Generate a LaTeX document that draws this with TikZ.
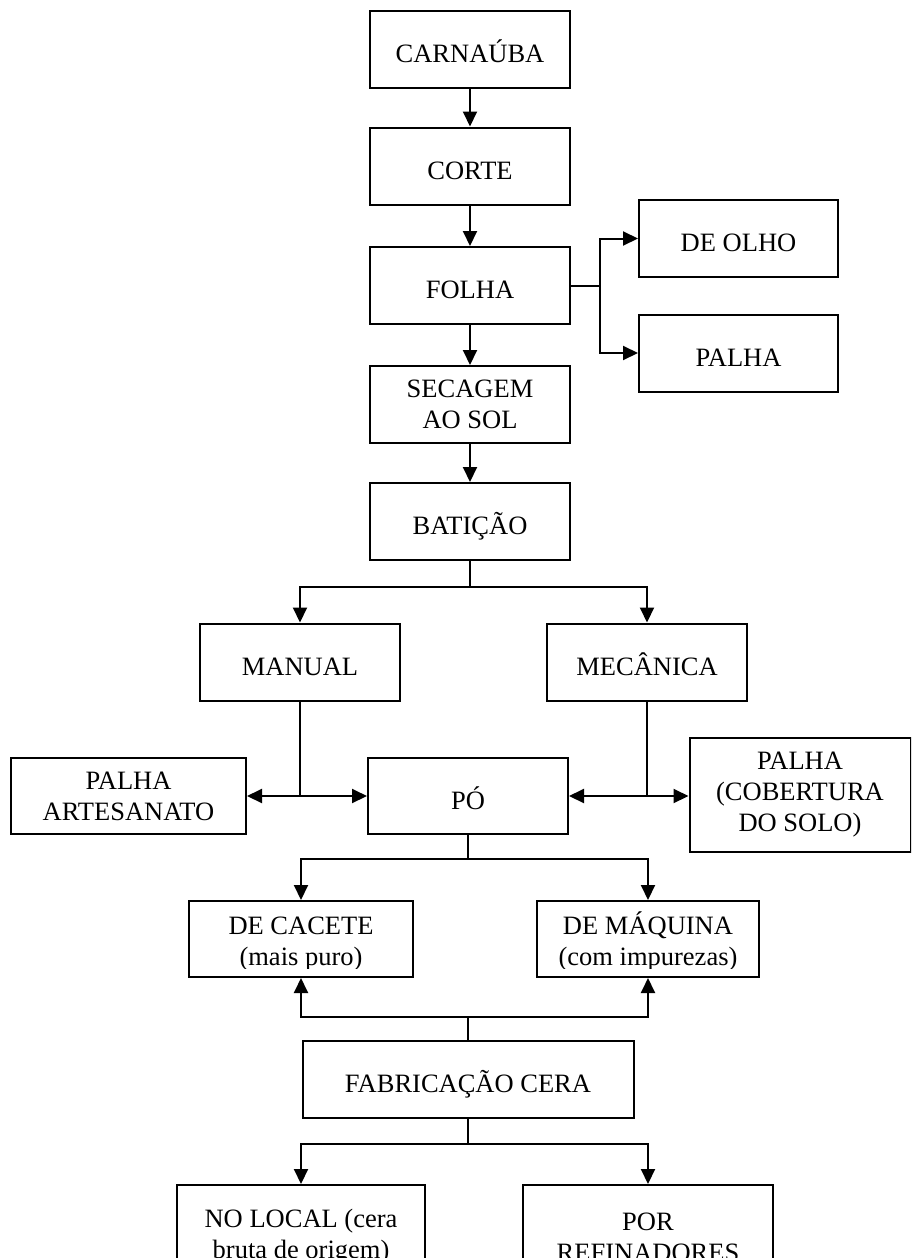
\documentclass[tikz,border=0pt]{standalone}
\usepackage{fontspec}
\setmainfont{Liberation Serif}
\usetikzlibrary{arrows.meta,positioning,calc}

\tikzset{
    caixa/.style={draw, rectangle, line width=2pt, minimum width=200pt, minimum height=77pt,
        align=center, font=\fontsize{26.5pt}{31pt}\selectfont},
    simples/.style={caixa, text height=26pt, text depth=0pt},
    texto/.style={align=center, inner sep=0pt, font=\fontsize{26.5pt}{31pt}\selectfont},
    linha/.style={line width=2pt},
    seta/.style={line width=2pt, -{Triangle[length=15pt,width=14pt]}}
}

\begin{document}
\begin{tikzpicture}[x=1pt, y=-1pt]
    \useasboundingbox (0,0) rectangle (911,1258);
    \clip (0,0) rectangle (911,1258);

    % coluna principal
    \node[simples] (carnauba) at (470,49.5) {CARNAÚBA};
    \node[simples] (corte) at (470,166) {CORTE};
    \node[simples] (folha) at (470,285.5) {FOLHA};
    \node[caixa] (secagem) at (470,404.5) {SECAGEM\\AO SOL};
    \node[simples] (baticao) at (470,521.5) {BATIÇÃO};

    \node[simples, minimum width=199pt] (deolho) at (738.5,238.5) {DE OLHO};
    \node[simples, minimum width=199pt] (palha) at (738.5,353) {PALHA};

    \node[simples] (manual) at (300,662) {MANUAL};
    \node[simples] (mecanica) at (647,662) {MECÂNICA};

    \node[caixa, minimum width=235pt, minimum height=76pt] (artesanato) at (128.5,796) {PALHA\\ARTESANATO};
    \node[simples, minimum height=76pt] (po) at (468,796) {PÓ};
    \node[caixa, minimum width=221pt, minimum height=114pt] (cobertura) at (800,795) {PALHA\\(COBERTURA\\DO SOLO)};

    \node[caixa, minimum width=224pt, minimum height=76pt] (cacete) at (301,939) {};
    \node[caixa, minimum width=222pt, minimum height=76pt] (maquina) at (648,939) {};
    \begin{scope}
        \clip (cacete.north west) rectangle ([yshift=10pt]maquina.south east);
        \node[texto] (cacetetxt) at ([yshift=-5pt]cacete.center) {DE CACETE\\(mais puro)};
        \node[texto] (maquinatxt) at ([yshift=-2.4pt]maquina.center) {DE MÁQUINA\\(com impurezas)};
    \end{scope}

    \node[simples, minimum width=331pt] (fabricacao) at (468,1079.5) {FABRICAÇÃO CERA};
    \node[caixa, minimum width=248pt, minimum height=104pt] (nolocal) at (301,1237) {NO LOCAL (cera\\bruta de origem)};
    \node[caixa, minimum width=250pt, minimum height=104pt] (refinadores) at (648,1237) {POR\\REFINADORES};

    % ligacoes
    \draw[seta] (carnauba) -- (corte);
    \draw[seta] (corte) -- (folha);
    \draw[seta] (folha) -- (secagem);
    \draw[seta] (secagem) -- (baticao);

    \draw[linha] (folha.east) -- ++(29,0) coordinate (f1);
    \draw[seta] (f1) |- (deolho.west);
    \draw[seta] (f1) |- (palha.west);

    \draw[linha] (baticao.south) -- ++(0,26) coordinate (b1);
    \draw[seta] (b1) -| (manual.north);
    \draw[seta] (b1) -| (mecanica.north);

    \coordinate (m1) at (manual.south |- po.west);
    \coordinate (m2) at (mecanica.south |- po.east);
    \draw[linha] (manual.south) -- (m1);
    \draw[seta] (m1) -- (artesanato.east);
    \draw[seta] (m1) -- (po.west);
    \draw[linha] (mecanica.south) -- (m2);
    \draw[seta] (m2) -- (po.east);
    \draw[seta] (m2) -- (m2 -| cobertura.west);

    \draw[linha] (po.south) -- ++(0,24) coordinate (p1);
    \draw[seta] (p1) -| (cacete.north);
    \draw[seta] (p1) -| (maquina.north);

    \draw[linha] (fabricacao.north) -- ++(0,-23) coordinate (c1);
    \draw[seta] (c1) -| (cacete.south);
    \draw[seta] (c1) -| (maquina.south);

    \draw[linha] (fabricacao.south) -- ++(0,25) coordinate (c2);
    \draw[seta] (c2) -| (nolocal.north);
    \draw[seta] (c2) -| (refinadores.north);
\end{tikzpicture}
\end{document}
